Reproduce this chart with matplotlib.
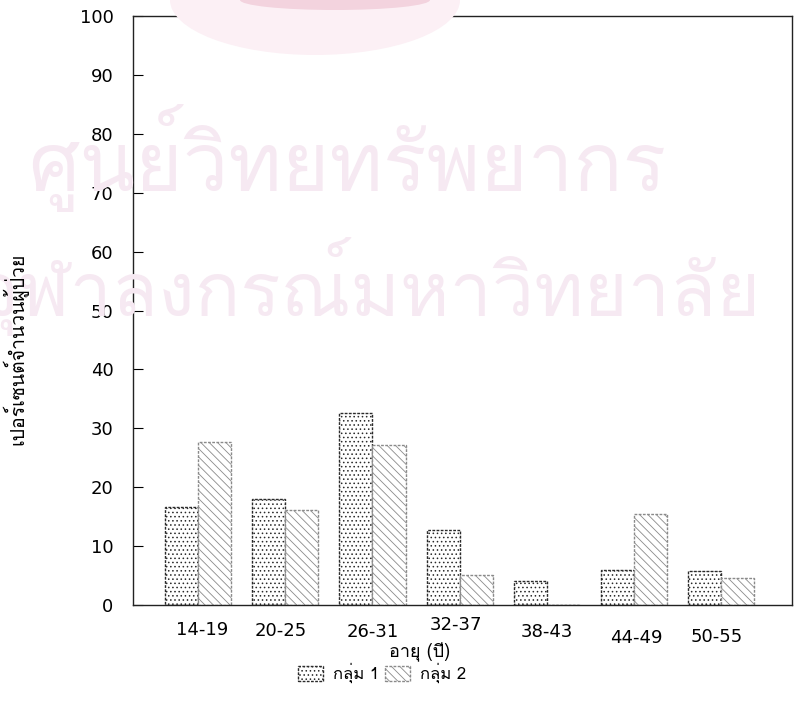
import numpy as np
import matplotlib
matplotlib.use('Agg')
import matplotlib.pyplot as plt
from matplotlib import font_manager
from matplotlib.ft2font import FT2Font
from matplotlib.patches import Patch, Ellipse

# ข้อมูล
age_groups = ['14-19', '20-25', '26-31', '32-37', '38-43', '44-49', '50-55']
group1 = [16.6, 18.0, 32.6, 12.7, 4.1, 5.9, 5.8]
group2 = [27.7, 16.1, 27.2, 5.1, 0.0, 15.4, 4.6]
series_names = ['กลุ่ม 1', 'กลุ่ม 2']
y_ticks = list(range(0, 101, 10))


def find_thai_font():
    """หาฟอนต์ที่มีอักษรไทย"""
    for f in font_manager.fontManager.ttflist:
        try:
            if 0x0E01 in FT2Font(f.fname).get_charmap():
                return f.name
        except Exception:
            pass
    return None


thai = find_thai_font()
families = ([thai] if thai else []) + ['DejaVu Sans']
plt.rcParams['hatch.linewidth'] = 0.6

W, H = 794, 715
fig = plt.figure(figsize=(W / 100, H / 100), dpi=100)

# โลโก้จาง ๆ ด้านบน
fig.patches.append(Ellipse((315 / W, 1.0), 290 / W, 110 / H, transform=fig.transFigure,
                           facecolor='#fcf0f5', edgecolor='none', zorder=0))
fig.patches.append(Ellipse((335 / W, 1.0), 190 / W, 20 / H, transform=fig.transFigure,
                           facecolor='#f3d3de', edgecolor='none', zorder=0))

# ลายน้ำ ปรับขนาดให้ได้ความกว้างตามภาพ
wm = [('ศูนย์วิทยทรัพยากร', 347, 191, 638),
      ('จุฬาลงกรณ์มหาวิทยาลัย', 368, 316, 786)]
renderer = fig.canvas.get_renderer()
for txt, cx, by, width in wm:
    t = fig.text(cx / W, 1 - by / H, txt, family=families, fontsize=40,
                 color='#f6e9f2', ha='center', va='baseline', zorder=0)
    bw = t.get_window_extent(renderer).width
    t.set_fontsize(40 * width / bw)

ax = fig.add_axes([133 / W, 1 - 605 / H, (792 - 133) / W, (605 - 16) / H])
ax.patch.set_alpha(0)

x = np.arange(len(age_groups))
w = 0.38
ax.bar(x - w / 2, group1, w, facecolor='white', edgecolor='#2a2a2a',
       hatch='....', linewidth=1.0, linestyle=(0, (2, 1)))
ax.bar(x + w / 2, group2, w, facecolor='white', edgecolor='#8a8a8a',
       hatch='\\\\\\\\', linewidth=1.0, linestyle=(0, (2, 1)))

ax.set_xlim(-0.745, 6.81)
ax.set_ylim(0, 100)
ax.set_yticks(y_ticks)
ax.tick_params(axis='y', direction='in', length=7, pad=14, labelsize=13)
ax.set_xticks([])
for s in ax.spines.values():
    s.set_linewidth(1.0)
    s.set_color('#222222')

# ป้ายแกน x (ตำแหน่งเลื่อนเล็กน้อยตามภาพต้นฉบับ)
lab_x = [0.05, 0.95, 2.0, 2.96, 4.0, 5.03, 5.95]
lab_dy = [-25, -26, -27, -20, -27, -33, -32]
for lx, dy, t in zip(lab_x, lab_dy, age_groups):
    ax.annotate(t, (lx, 0), xytext=(0, dy), textcoords='offset pixels',
                ha='center', va='center', fontsize=13)

fig.text(420 / W, 1 - 652 / H, 'อายุ (ปี)', family=families, fontsize=13,
         ha='center', va='center')
fig.text(15 / W, 1 - 349 / H, 'เปอร์เซนต์จำนวนผู้ป่วย', family=families, fontsize=14,
         rotation=90, ha='center', va='center')

handles = [Patch(facecolor='white', edgecolor='#2a2a2a', hatch='....', linestyle=(0, (2, 1))),
           Patch(facecolor='white', edgecolor='#8a8a8a', hatch='\\\\\\\\', linestyle=(0, (2, 1)))]
fig.legend(handles, series_names, loc='center', bbox_to_anchor=(382 / W, 1 - 673 / H),
           ncol=2, frameon=False, prop={'family': families, 'size': 12},
           handlelength=1.5, handleheight=1.0, columnspacing=0.4, handletextpad=0.6)

fig.savefig('out.png', dpi=100)
